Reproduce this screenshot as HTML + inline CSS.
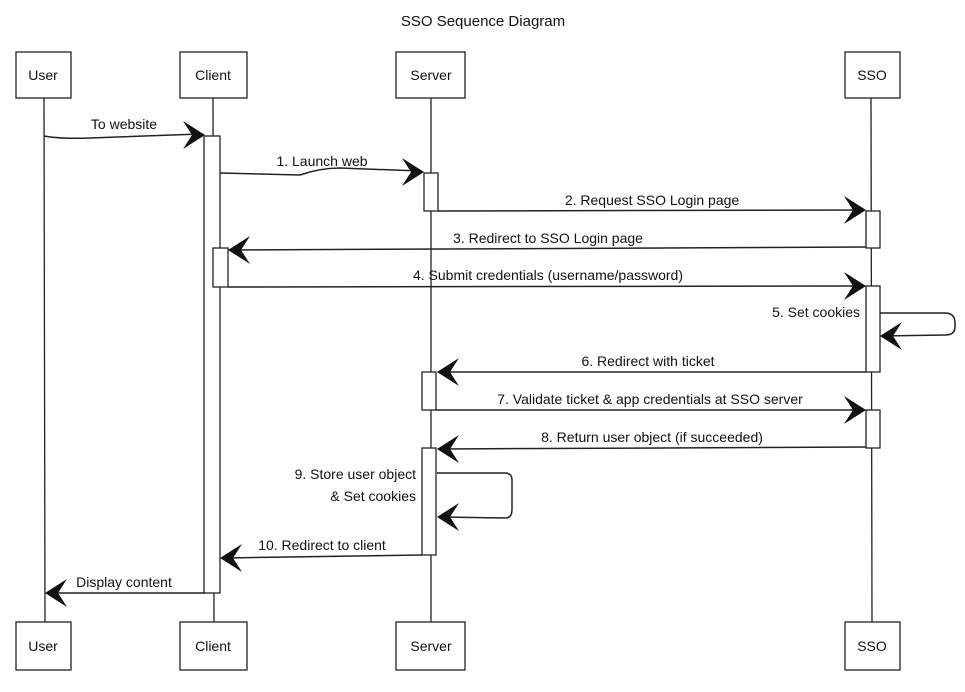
<!DOCTYPE html>
<html><head><meta charset="utf-8"><style>
html,body{margin:0;padding:0;background:#fff;}
svg{display:block;}
text{font-family:"Liberation Sans",sans-serif;font-size:14px;fill:#111;}
</style></head><body>
<svg width="965" height="692" viewBox="0 0 965 692" xmlns="http://www.w3.org/2000/svg">
<defs>
<path id="ah" d="M0,0 L-22,-14 L-13,0 L-22,14 Z" fill="#111"/>
</defs>
<text x="483" y="26" text-anchor="middle" style="font-size:15px">SSO Sequence Diagram</text>
<g stroke="#222" stroke-width="1.3" fill="none">
<!-- lifelines -->
<line x1="44" y1="98" x2="45" y2="622"/>
<line x1="213" y1="98" x2="214" y2="622"/>
<line x1="431" y1="98" x2="431" y2="622"/>
<line x1="871" y1="98" x2="872" y2="622"/>
</g>
<g stroke="#222" stroke-width="1.3" fill="#fff">
<!-- top boxes -->
<rect x="16" y="52" width="55" height="46"/>
<rect x="180" y="52" width="67" height="46"/>
<rect x="396" y="52" width="69" height="46"/>
<rect x="845" y="52" width="55" height="46"/>
<!-- bottom boxes -->
<rect x="16" y="622" width="55" height="48"/>
<rect x="180" y="622" width="67" height="48"/>
<rect x="396" y="622" width="69" height="48"/>
<rect x="845" y="622" width="55" height="48"/>
<!-- activations -->
<rect x="204" y="136" width="16" height="457"/>
<rect x="424" y="173" width="14" height="38"/>
<rect x="866" y="211" width="14" height="37"/>
<rect x="213" y="248" width="15" height="39"/>
<rect x="866" y="286" width="14" height="86"/>
<rect x="422" y="372" width="14" height="38"/>
<rect x="866" y="410" width="14" height="38"/>
<rect x="422" y="448" width="14" height="107"/>
</g>
<g text-anchor="middle">
<text x="43" y="80">User</text><text x="213" y="80">Client</text><text x="431" y="80">Server</text><text x="872" y="80">SSO</text>
<text x="43" y="651">User</text><text x="213" y="651">Client</text><text x="431" y="651">Server</text><text x="872" y="651">SSO</text>
</g>
<g stroke="#222" stroke-width="1.5" fill="none">
<path d="M44,136 Q60,139 90,138 L200,134"/>
<path d="M220,173 L300,175 Q320,168 340,168 L420,171"/>
<path d="M438,211 L862,210"/>
<path d="M866,247 L232,250"/>
<path d="M228,287 L862,286"/>
<path d="M880,313 L945,313 Q955,313 955,323 L955,327 Q955,335 945,335 L884,336"/>
<path d="M866,372 L441,372"/>
<path d="M436,410 L862,410"/>
<path d="M866,447 L441,449"/>
<path d="M437,473 L505,473 Q512,473 512,480 L512,510 Q512,518 505,518 L441,517"/>
<path d="M422,555 L224,558"/>
<path d="M205,593 L49,593"/>
</g>
<use href="#ah" transform="translate(205,135)"/>
<use href="#ah" transform="translate(424,172)"/>
<use href="#ah" transform="translate(866,210)"/>
<use href="#ah" transform="translate(228,250) rotate(180)"/>
<use href="#ah" transform="translate(866,286)"/>
<use href="#ah" transform="translate(880,336) rotate(180)"/>
<use href="#ah" transform="translate(437,372) rotate(180)"/>
<use href="#ah" transform="translate(866,410)"/>
<use href="#ah" transform="translate(437,449) rotate(180)"/>
<use href="#ah" transform="translate(437,517) rotate(180)"/>
<use href="#ah" transform="translate(220,558) rotate(180)"/>
<use href="#ah" transform="translate(45,593) rotate(180)"/>
<g text-anchor="middle">
<text x="124" y="129">To website</text>
<text x="322" y="166">1. Launch web</text>
<text x="652" y="205">2. Request SSO Login page</text>
<text x="548" y="243">3. Redirect to SSO Login page</text>
<text x="548" y="280">4. Submit credentials (username/password)</text>
<text x="648" y="366">6. Redirect with ticket</text>
<text x="650" y="404">7. Validate ticket &amp; app credentials at SSO server</text>
<text x="652" y="442">8. Return user object (if succeeded)</text>
<text x="322" y="550">10. Redirect to client</text>
<text x="124" y="587">Display content</text>
</g>
<g text-anchor="end">
<text x="860" y="317">5. Set cookies</text>
<text x="416" y="479">9. Store user object</text>
<text x="416" y="501">&amp; Set cookies</text>
</g>
</svg>
</body></html>
